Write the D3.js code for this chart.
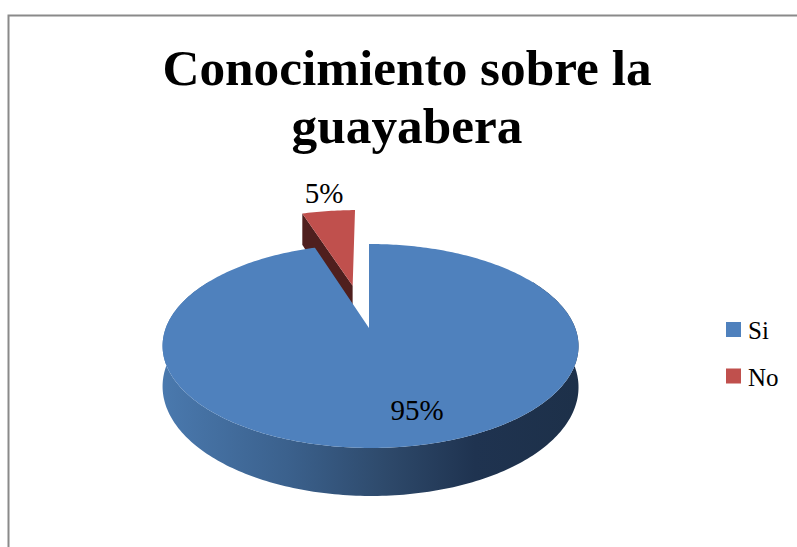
<!DOCTYPE html>
<html><head><meta charset="utf-8">
<script src="https://cdn.jsdelivr.net/npm/d3@7"></script>
<style>html,body{margin:0;padding:0;background:#fff}svg{display:block}</style>
</head><body><svg id="c" width="797" height="547"></svg>
<script>
const titleLines = ["Conocimiento sobre la", "guayabera"];
const categories = ["Si", "No"];
const values = [95, 5];
const percentLabels = ["95%", "5%"];
const topColors = ["#4f81bd", "#c0504d"];
const innerWallColor = "#4f1f1e";
const wallStops = [[0,"#4a79ae"],[0.3,"#3b618d"],[0.55,"#2d4869"],[0.75,"#1f3350"],[1,"#1d3049"]];

const svg = d3.select("#c");
const F = "'Liberation Serif', serif";

// chart frame (only top and left edges are visible in the crop)
svg.append("path").attr("d","M8.5,547V15.5H797").attr("fill","none").attr("stroke","#8a8a8a").attr("stroke-width",2);

titleLines.forEach((t,i)=>svg.append("text").attr("x",407).attr("y",[85,143][i])
  .attr("text-anchor","middle").attr("font-family",F).attr("font-weight","bold")
  .attr("font-size",51.3).attr("fill","#000").text(t));

// perspective projection of the pie disc
const apexX = 369, apexY = 328, rx = 204.7, ry = 98.8, k = 0.1765, m = 0.0073, depth = 39.5;
const explodeU = -0.0865, explodeV = 0.463, explodedRadius = 1.05;
const proj = (u,v)=>{const w=1+k*v-m*u; return [apexX+rx*u/w, apexY-ry*v/w, depth/w];};
const radial = (a,r,ox=0,oy=0)=>proj(ox+r*Math.sin(a), oy+r*Math.cos(a));
const line = d3.line();
const arcs = d3.pie().sort(null).value(d=>d)(values);
const step = Math.PI/180;

const defs = svg.append("defs");
const grad = defs.append("linearGradient").attr("id","wall").attr("gradientUnits","userSpaceOnUse")
  .attr("x1",162).attr("x2",579).attr("y1",0).attr("y2",0);
wallStops.forEach(s=>grad.append("stop").attr("offset",s[0]).attr("stop-color",s[1]));

// exploded slice
const no = arcs[1];
const noRim = d3.range(no.startAngle,no.endAngle+step/2,step).map(a=>radial(a,explodedRadius,explodeU,explodeV));
const noApex = proj(explodeU,explodeV);
const first = noRim[0];
svg.append("path").attr("fill",innerWallColor).attr("d",line([
  [first[0],first[1]],[noApex[0],noApex[1]],[noApex[0],noApex[1]+noApex[2]],[first[0],first[1]+first[2]]
])+"Z");
svg.append("path").attr("fill",topColors[1]).attr("d",line([[noApex[0],noApex[1]],...noRim.map(p=>[p[0],p[1]])])+"Z");

// outer wall of the main slice
const front = d3.range(60*step,300*step,step).map(a=>radial(a,1));
svg.append("path").attr("fill","url(#wall)").attr("d",line([
  ...front.map(p=>[p[0],p[1]]), ...front.slice().reverse().map(p=>[p[0],p[1]+p[2]])
])+"Z");

// main slice top
const si = arcs[0];
const siRim = d3.range(si.startAngle,si.endAngle+step/2,step).map(a=>radial(a,1));
svg.append("path").attr("fill",topColors[0]).attr("d",line([[apexX,apexY],...siRim.map(p=>[p[0],p[1]])])+"Z");

// data labels
const labelPos = [[417,420],[324,203]];
percentLabels.forEach((t,i)=>svg.append("text").attr("x",labelPos[i][0]).attr("y",labelPos[i][1])
  .attr("text-anchor","middle").attr("font-family",F).attr("font-size",29).attr("fill","#000").text(t));

// legend
const legendY = d3.scalePoint().domain(categories).range([330,376.5]);
categories.forEach((c,i)=>{
  svg.append("rect").attr("x",726).attr("y",legendY(c)-8).attr("width",15).attr("height",15).attr("fill",topColors[i]);
  svg.append("text").attr("x",748).attr("y",legendY(c)+9).attr("font-family",F).attr("font-size",25).attr("fill","#000").text(c);
});
</script></body></html>
